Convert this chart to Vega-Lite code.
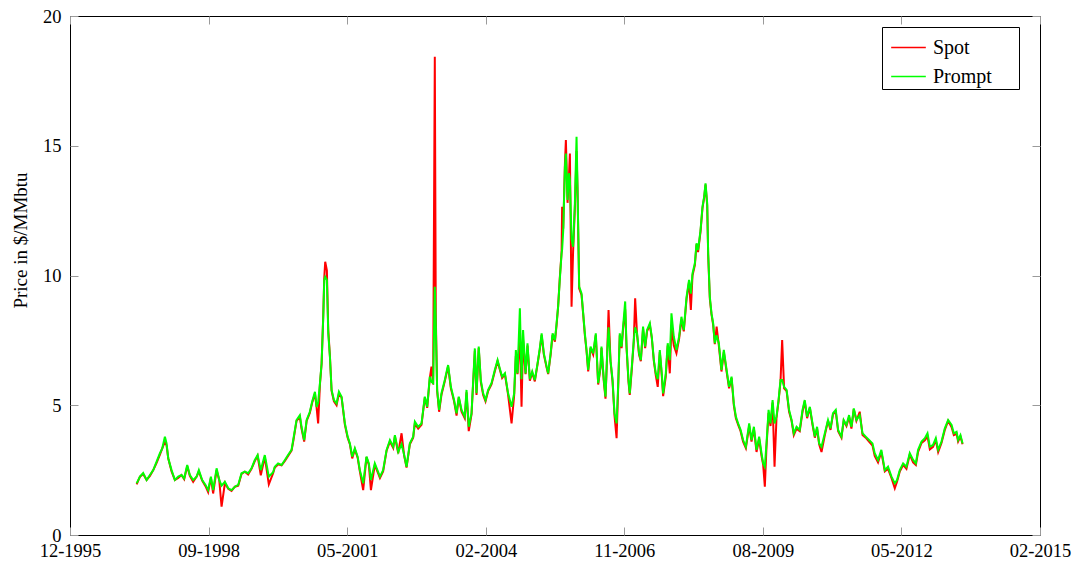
{
  "$schema": "https://vega.github.io/schema/vega-lite/v6.json",
  "width": 970,
  "height": 519,
  "autosize": "none",
  "padding": {"left": 70, "top": 16, "right": 36, "bottom": 27},
  "background": "white",
  "config": {
    "view": {"stroke": "black", "strokeWidth": 1},
    "font": "Liberation Serif",
    "axis": {"labelFont": "Liberation Serif", "titleFont": "Liberation Serif", "labelFontSize": 18.5, "titleFontSize": 19, "titleFontWeight": "normal", "labelColor": "black", "titleColor": "black", "domain": false, "grid": false, "tickColor": "#9a9a9a", "tickSize": -8, "tickWidth": 1}
  },
  "data": {"values": [
{"date":"1997-04-02","Spot":1.95,"Prompt":1.99},{"date":"1997-04-26","Spot":2.25,"Prompt":2.25},{"date":"1997-05-19","Spot":2.35,"Prompt":2.39},{"date":"1997-06-13","Spot":2.12,"Prompt":2.12},{"date":"1997-07-07","Spot":2.28,"Prompt":2.31},{"date":"1997-07-31","Spot":2.5,"Prompt":2.5},{"date":"1997-08-24","Spot":2.78,"Prompt":2.83},{"date":"1997-09-17","Spot":3.1,"Prompt":3.15},{"date":"1997-10-04","Spot":3.34,"Prompt":3.34},{"date":"1997-10-23","Spot":3.6,"Prompt":3.79},{"date":"1997-11-04","Spot":3.45,"Prompt":3.53},{"date":"1997-11-16","Spot":2.96,"Prompt":2.96},{"date":"1997-12-10","Spot":2.45,"Prompt":2.5},
{"date":"1998-01-03","Spot":2.12,"Prompt":2.12},{"date":"1998-01-27","Spot":2.2,"Prompt":2.25},{"date":"1998-02-20","Spot":2.31,"Prompt":2.31},{"date":"1998-03-11","Spot":2.15,"Prompt":2.18},{"date":"1998-04-02","Spot":2.65,"Prompt":2.7},{"date":"1998-04-21","Spot":2.28,"Prompt":2.31},{"date":"1998-05-15","Spot":2.05,"Prompt":2.12},{"date":"1998-06-09","Spot":2.25,"Prompt":2.25},{"date":"1998-06-25","Spot":2.45,"Prompt":2.5},{"date":"1998-07-19","Spot":2.1,"Prompt":2.12},{"date":"1998-08-12","Spot":1.88,"Prompt":1.93},{"date":"1998-08-31","Spot":1.65,"Prompt":1.73},{"date":"1998-09-20","Spot":2.2,"Prompt":2.25},{"date":"1998-10-06","Spot":1.6,"Prompt":1.73},{"date":"1998-10-31","Spot":2.5,"Prompt":2.57},{"date":"1998-11-19","Spot":2.12,"Prompt":2.12},{"date":"1998-12-06","Spot":1.09,"Prompt":1.9},{"date":"1998-12-30","Spot":2.0,"Prompt":2.05},
{"date":"1999-01-23","Spot":1.78,"Prompt":1.8},{"date":"1999-02-16","Spot":1.7,"Prompt":1.73},{"date":"1999-03-12","Spot":1.86,"Prompt":1.86},{"date":"1999-04-05","Spot":1.9,"Prompt":1.93},{"date":"1999-04-29","Spot":2.35,"Prompt":2.38},{"date":"1999-05-23","Spot":2.44,"Prompt":2.44},{"date":"1999-06-16","Spot":2.33,"Prompt":2.38},{"date":"1999-07-10","Spot":2.55,"Prompt":2.57},{"date":"1999-08-03","Spot":2.85,"Prompt":2.89},{"date":"1999-08-23","Spot":3.05,"Prompt":3.08},{"date":"1999-09-15","Spot":2.3,"Prompt":2.5},{"date":"1999-10-14","Spot":3.0,"Prompt":3.08},{"date":"1999-11-12","Spot":1.95,"Prompt":2.25},{"date":"1999-12-13","Spot":2.38,"Prompt":2.42},{"date":"1999-12-25","Spot":2.6,"Prompt":2.63},
{"date":"2000-01-18","Spot":2.72,"Prompt":2.76},{"date":"2000-02-12","Spot":2.68,"Prompt":2.7},{"date":"2000-03-07","Spot":2.85,"Prompt":2.89},{"date":"2000-03-30","Spot":3.05,"Prompt":3.08},{"date":"2000-04-24","Spot":3.25,"Prompt":3.28},{"date":"2000-05-06","Spot":3.6,"Prompt":3.66},{"date":"2000-05-30","Spot":4.4,"Prompt":4.43},{"date":"2000-06-23","Spot":4.55,"Prompt":4.62},{"date":"2000-07-05","Spot":4.1,"Prompt":4.17},{"date":"2000-07-24","Spot":3.6,"Prompt":3.66},{"date":"2000-08-11","Spot":4.4,"Prompt":4.43},{"date":"2000-09-03","Spot":4.7,"Prompt":4.75},{"date":"2000-09-20","Spot":5.1,"Prompt":5.14},{"date":"2000-10-10","Spot":5.45,"Prompt":5.52},{"date":"2000-10-22","Spot":4.9,"Prompt":4.94},{"date":"2000-11-02","Spot":4.3,"Prompt":5.1},{"date":"2000-11-15","Spot":5.8,"Prompt":5.85},{"date":"2000-11-27","Spot":6.6,"Prompt":6.62},{"date":"2000-12-09","Spot":8.5,"Prompt":8.41},{"date":"2000-12-16","Spot":9.9,"Prompt":9.83},{"date":"2000-12-23","Spot":10.53,"Prompt":9.95},
{"date":"2001-01-04","Spot":10.2,"Prompt":9.83},{"date":"2001-01-14","Spot":7.9,"Prompt":7.77},{"date":"2001-01-26","Spot":6.9,"Prompt":6.87},{"date":"2001-02-07","Spot":5.55,"Prompt":5.59},{"date":"2001-02-24","Spot":5.15,"Prompt":5.2},{"date":"2001-03-15","Spot":5.0,"Prompt":5.07},{"date":"2001-04-01","Spot":5.45,"Prompt":5.52},{"date":"2001-04-20","Spot":5.3,"Prompt":5.33},{"date":"2001-05-14","Spot":4.25,"Prompt":4.3},{"date":"2001-06-03","Spot":3.75,"Prompt":3.79},{"date":"2001-06-19","Spot":3.5,"Prompt":3.53},{"date":"2001-07-06","Spot":2.95,"Prompt":3.02},{"date":"2001-07-25","Spot":3.3,"Prompt":3.34},{"date":"2001-08-14","Spot":2.98,"Prompt":3.02},{"date":"2001-08-30","Spot":2.45,"Prompt":2.5},{"date":"2001-09-23","Spot":1.73,"Prompt":1.99},{"date":"2001-10-17","Spot":3.0,"Prompt":3.02},{"date":"2001-11-03","Spot":2.7,"Prompt":2.76},{"date":"2001-11-18","Spot":1.73,"Prompt":2.12},{"date":"2001-12-16","Spot":2.7,"Prompt":2.76},
{"date":"2002-01-22","Spot":2.2,"Prompt":2.25},{"date":"2002-02-14","Spot":2.45,"Prompt":2.5},{"date":"2002-03-11","Spot":3.25,"Prompt":3.28},{"date":"2002-04-04","Spot":3.6,"Prompt":3.66},{"date":"2002-04-28","Spot":3.35,"Prompt":3.4},{"date":"2002-05-10","Spot":3.8,"Prompt":3.85},{"date":"2002-06-03","Spot":3.15,"Prompt":3.2},{"date":"2002-06-27","Spot":3.92,"Prompt":3.5},{"date":"2002-07-16","Spot":3.05,"Prompt":3.08},{"date":"2002-08-02","Spot":2.6,"Prompt":2.63},{"date":"2002-08-26","Spot":3.5,"Prompt":3.53},{"date":"2002-09-19","Spot":3.75,"Prompt":3.79},{"date":"2002-10-01","Spot":4.3,"Prompt":4.37},{"date":"2002-10-25","Spot":4.1,"Prompt":4.17},{"date":"2002-11-18","Spot":4.25,"Prompt":4.3},{"date":"2002-12-12","Spot":5.3,"Prompt":5.33},{"date":"2002-12-29","Spot":4.9,"Prompt":4.94},
{"date":"2003-01-17","Spot":6.05,"Prompt":6.1},{"date":"2003-01-29","Spot":6.49,"Prompt":5.9},{"date":"2003-02-10","Spot":5.8,"Prompt":5.85},{"date":"2003-02-22","Spot":18.43,"Prompt":9.57},{"date":"2003-03-01","Spot":8.5,"Prompt":8.16},{"date":"2003-03-11","Spot":5.55,"Prompt":5.59},{"date":"2003-03-25","Spot":4.75,"Prompt":4.82},{"date":"2003-04-11","Spot":5.4,"Prompt":5.46},{"date":"2003-05-05","Spot":5.92,"Prompt":5.97},{"date":"2003-05-29","Spot":6.5,"Prompt":6.55},{"date":"2003-06-18","Spot":5.65,"Prompt":5.71},{"date":"2003-07-11","Spot":5.15,"Prompt":5.2},{"date":"2003-07-29","Spot":4.6,"Prompt":4.69},{"date":"2003-08-14","Spot":5.3,"Prompt":5.33},{"date":"2003-09-03","Spot":4.75,"Prompt":4.82},{"date":"2003-09-26","Spot":4.5,"Prompt":4.56},{"date":"2003-10-09","Spot":5.5,"Prompt":5.59},{"date":"2003-10-25","Spot":4.0,"Prompt":4.17},{"date":"2003-11-14","Spot":4.65,"Prompt":4.69},{"date":"2003-12-08","Spot":7.1,"Prompt":7.19},{"date":"2003-12-20","Spot":5.4,"Prompt":5.46},
{"date":"2004-01-05","Spot":7.2,"Prompt":7.26},{"date":"2004-01-20","Spot":5.9,"Prompt":5.97},{"date":"2004-02-06","Spot":5.4,"Prompt":5.46},{"date":"2004-02-23","Spot":5.15,"Prompt":5.2},{"date":"2004-03-13","Spot":5.55,"Prompt":5.59},{"date":"2004-04-06","Spot":5.8,"Prompt":5.85},{"date":"2004-04-30","Spot":6.3,"Prompt":6.36},{"date":"2004-05-20","Spot":6.7,"Prompt":6.74},{"date":"2004-06-05","Spot":6.38,"Prompt":6.42},{"date":"2004-06-22","Spot":6.05,"Prompt":6.1},{"date":"2004-07-12","Spot":6.2,"Prompt":6.23},{"date":"2004-08-04","Spot":5.4,"Prompt":5.46},{"date":"2004-08-29","Spot":4.3,"Prompt":4.94},{"date":"2004-09-17","Spot":5.4,"Prompt":5.46},{"date":"2004-09-29","Spot":6.9,"Prompt":7.13},{"date":"2004-10-11","Spot":6.2,"Prompt":6.23},{"date":"2004-10-28","Spot":7.8,"Prompt":8.74},{"date":"2004-11-09","Spot":4.94,"Prompt":6.0},{"date":"2004-11-20","Spot":7.5,"Prompt":7.9},{"date":"2004-12-08","Spot":6.2,"Prompt":6.23},{"date":"2004-12-22","Spot":7.3,"Prompt":7.39},
{"date":"2005-01-08","Spot":5.95,"Prompt":6.0},{"date":"2005-01-25","Spot":6.25,"Prompt":6.3},{"date":"2005-02-13","Spot":5.92,"Prompt":5.97},{"date":"2005-03-05","Spot":6.6,"Prompt":6.62},{"date":"2005-03-21","Spot":7.15,"Prompt":7.2},{"date":"2005-04-03","Spot":7.7,"Prompt":7.77},{"date":"2005-04-19","Spot":6.95,"Prompt":7.0},{"date":"2005-05-09","Spot":6.45,"Prompt":6.49},{"date":"2005-05-20","Spot":6.2,"Prompt":6.23},{"date":"2005-06-07","Spot":6.95,"Prompt":7.0},{"date":"2005-06-21","Spot":7.7,"Prompt":7.77},{"date":"2005-07-08","Spot":7.45,"Prompt":7.51},{"date":"2005-07-20","Spot":8.1,"Prompt":8.16},{"date":"2005-07-31","Spot":8.8,"Prompt":8.8},{"date":"2005-08-12","Spot":9.9,"Prompt":9.83},{"date":"2005-08-25","Spot":10.9,"Prompt":10.86},{"date":"2005-08-29","Spot":12.65,"Prompt":11.0},{"date":"2005-09-06","Spot":11.8,"Prompt":11.75},{"date":"2005-09-18","Spot":14.3,"Prompt":14.19},{"date":"2005-09-25","Spot":15.22,"Prompt":14.7},{"date":"2005-10-07","Spot":12.8,"Prompt":12.91},{"date":"2005-10-17","Spot":13.8,"Prompt":13.94},{"date":"2005-10-24","Spot":14.7,"Prompt":13.7},{"date":"2005-11-05","Spot":8.8,"Prompt":11.4},{"date":"2005-11-16","Spot":10.9,"Prompt":11.11},{"date":"2005-11-29","Spot":12.6,"Prompt":12.78},{"date":"2005-12-11","Spot":14.8,"Prompt":15.35},{"date":"2005-12-18","Spot":13.3,"Prompt":13.42},{"date":"2005-12-30","Spot":9.5,"Prompt":9.57},
{"date":"2006-01-16","Spot":9.25,"Prompt":9.31},{"date":"2006-01-28","Spot":8.5,"Prompt":8.54},{"date":"2006-02-09","Spot":7.7,"Prompt":7.77},{"date":"2006-02-21","Spot":7.1,"Prompt":7.13},{"date":"2006-03-05","Spot":6.3,"Prompt":6.36},{"date":"2006-03-22","Spot":7.2,"Prompt":7.26},{"date":"2006-04-10","Spot":6.95,"Prompt":7.0},{"date":"2006-04-29","Spot":7.7,"Prompt":7.77},{"date":"2006-05-16","Spot":5.8,"Prompt":5.85},{"date":"2006-06-02","Spot":6.45,"Prompt":6.49},{"date":"2006-06-09","Spot":7.2,"Prompt":7.26},{"date":"2006-06-26","Spot":5.9,"Prompt":5.97},{"date":"2006-07-08","Spot":5.25,"Prompt":5.33},{"date":"2006-07-20","Spot":6.95,"Prompt":7.0},{"date":"2006-07-30","Spot":8.67,"Prompt":8.0},{"date":"2006-08-13","Spot":6.7,"Prompt":6.74},{"date":"2006-08-28","Spot":5.9,"Prompt":5.97},{"date":"2006-09-11","Spot":4.6,"Prompt":4.69},{"date":"2006-09-26","Spot":3.73,"Prompt":4.3},{"date":"2006-10-07","Spot":5.6,"Prompt":5.71},{"date":"2006-10-19","Spot":7.7,"Prompt":7.77},{"date":"2006-11-01","Spot":7.2,"Prompt":7.26},{"date":"2006-11-12","Spot":7.95,"Prompt":8.03},{"date":"2006-11-27","Spot":8.7,"Prompt":9.0},{"date":"2006-12-07","Spot":7.2,"Prompt":7.26},{"date":"2006-12-21","Spot":5.9,"Prompt":5.97},{"date":"2006-12-30","Spot":5.4,"Prompt":5.46},
{"date":"2007-01-14","Spot":6.4,"Prompt":6.49},{"date":"2007-01-28","Spot":7.45,"Prompt":7.51},{"date":"2007-02-07","Spot":9.12,"Prompt":8.0},{"date":"2007-02-21","Spot":7.7,"Prompt":7.77},{"date":"2007-03-07","Spot":6.95,"Prompt":7.0},{"date":"2007-03-20","Spot":6.7,"Prompt":6.74},{"date":"2007-04-05","Spot":7.95,"Prompt":8.03},{"date":"2007-04-20","Spot":7.2,"Prompt":7.26},{"date":"2007-05-04","Spot":7.85,"Prompt":7.9},{"date":"2007-05-24","Spot":8.1,"Prompt":8.16},{"date":"2007-06-07","Spot":7.6,"Prompt":7.64},{"date":"2007-06-22","Spot":6.7,"Prompt":6.74},{"date":"2007-07-06","Spot":6.15,"Prompt":6.23},{"date":"2007-07-20","Spot":5.71,"Prompt":6.0},{"date":"2007-08-04","Spot":7.05,"Prompt":7.13},{"date":"2007-08-18","Spot":6.15,"Prompt":6.23},{"date":"2007-08-28","Spot":5.35,"Prompt":5.46},{"date":"2007-09-16","Spot":6.1,"Prompt":6.23},{"date":"2007-09-30","Spot":7.3,"Prompt":7.39},{"date":"2007-10-15","Spot":6.23,"Prompt":6.74},{"date":"2007-10-27","Spot":8.0,"Prompt":8.54},{"date":"2007-11-13","Spot":7.3,"Prompt":7.64},{"date":"2007-12-02","Spot":7.0,"Prompt":7.13},{"date":"2007-12-21","Spot":7.55,"Prompt":7.64},
{"date":"2008-01-07","Spot":8.3,"Prompt":8.41},{"date":"2008-01-24","Spot":7.85,"Prompt":7.9},{"date":"2008-02-13","Spot":9.1,"Prompt":9.18},{"date":"2008-03-02","Spot":9.75,"Prompt":9.83},{"date":"2008-03-15","Spot":8.67,"Prompt":9.3},{"date":"2008-03-27","Spot":10.0,"Prompt":10.08},{"date":"2008-04-13","Spot":10.4,"Prompt":10.47},{"date":"2008-04-25","Spot":11.2,"Prompt":11.24},{"date":"2008-05-06","Spot":10.9,"Prompt":10.98},{"date":"2008-05-24","Spot":11.7,"Prompt":11.75},{"date":"2008-06-07","Spot":12.6,"Prompt":12.65},{"date":"2008-06-19","Spot":13.0,"Prompt":13.04},{"date":"2008-06-29","Spot":13.5,"Prompt":13.55},{"date":"2008-07-11","Spot":12.7,"Prompt":12.78},{"date":"2008-07-18","Spot":10.8,"Prompt":10.86},{"date":"2008-07-30","Spot":9.1,"Prompt":9.18},{"date":"2008-08-11","Spot":8.5,"Prompt":8.54},{"date":"2008-08-23","Spot":8.1,"Prompt":8.16},{"date":"2008-09-04","Spot":7.35,"Prompt":7.39},{"date":"2008-09-17","Spot":8.03,"Prompt":7.7},{"date":"2008-10-03","Spot":7.3,"Prompt":7.39},{"date":"2008-10-22","Spot":6.3,"Prompt":6.36},{"date":"2008-11-08","Spot":7.05,"Prompt":7.13},{"date":"2008-11-28","Spot":6.3,"Prompt":6.36},{"date":"2008-12-16","Spot":5.65,"Prompt":5.71},
{"date":"2009-01-03","Spot":6.05,"Prompt":6.1},{"date":"2009-01-19","Spot":5.0,"Prompt":5.07},{"date":"2009-02-03","Spot":4.5,"Prompt":4.56},{"date":"2009-02-19","Spot":4.25,"Prompt":4.3},{"date":"2009-03-09","Spot":4.0,"Prompt":4.05},{"date":"2009-03-27","Spot":3.6,"Prompt":3.66},{"date":"2009-04-16","Spot":3.35,"Prompt":3.4},{"date":"2009-05-10","Spot":4.2,"Prompt":4.3},{"date":"2009-05-27","Spot":3.6,"Prompt":3.66},{"date":"2009-06-13","Spot":4.1,"Prompt":4.17},{"date":"2009-07-02","Spot":3.2,"Prompt":3.28},{"date":"2009-07-21","Spot":3.7,"Prompt":3.79},{"date":"2009-08-07","Spot":3.05,"Prompt":3.15},{"date":"2009-08-19","Spot":2.7,"Prompt":2.76},{"date":"2009-08-31","Spot":1.86,"Prompt":2.63},{"date":"2009-09-12","Spot":3.4,"Prompt":3.53},{"date":"2009-09-27","Spot":4.7,"Prompt":4.82},{"date":"2009-10-11","Spot":4.2,"Prompt":4.3},{"date":"2009-10-26","Spot":5.1,"Prompt":5.2},{"date":"2009-11-09","Spot":2.63,"Prompt":4.3},{"date":"2009-11-23","Spot":4.5,"Prompt":4.56},{"date":"2009-12-08","Spot":5.15,"Prompt":5.2},{"date":"2009-12-22","Spot":5.9,"Prompt":5.97},
{"date":"2010-01-03","Spot":7.51,"Prompt":5.97},{"date":"2010-01-17","Spot":5.65,"Prompt":5.71},{"date":"2010-02-04","Spot":5.55,"Prompt":5.59},{"date":"2010-02-22","Spot":4.75,"Prompt":4.82},{"date":"2010-03-12","Spot":4.4,"Prompt":4.43},{"date":"2010-03-28","Spot":3.85,"Prompt":3.92},{"date":"2010-04-17","Spot":4.1,"Prompt":4.17},{"date":"2010-05-10","Spot":4.0,"Prompt":4.05},{"date":"2010-05-30","Spot":4.75,"Prompt":4.82},{"date":"2010-06-15","Spot":5.15,"Prompt":5.2},{"date":"2010-07-02","Spot":4.5,"Prompt":4.56},{"date":"2010-07-22","Spot":4.9,"Prompt":4.94},{"date":"2010-08-10","Spot":4.25,"Prompt":4.3},{"date":"2010-08-27","Spot":3.75,"Prompt":3.79},{"date":"2010-09-12","Spot":4.1,"Prompt":4.17},{"date":"2010-09-27","Spot":3.5,"Prompt":3.53},{"date":"2010-10-14","Spot":3.2,"Prompt":3.4},{"date":"2010-11-07","Spot":3.85,"Prompt":3.92},{"date":"2010-11-30","Spot":4.4,"Prompt":4.43},{"date":"2010-12-18","Spot":4.05,"Prompt":4.11},
{"date":"2011-01-05","Spot":4.65,"Prompt":4.69},{"date":"2011-01-25","Spot":4.75,"Prompt":4.82},{"date":"2011-02-11","Spot":4.0,"Prompt":4.05},{"date":"2011-03-07","Spot":3.75,"Prompt":3.79},{"date":"2011-03-23","Spot":4.4,"Prompt":4.43},{"date":"2011-04-12","Spot":4.2,"Prompt":4.24},{"date":"2011-05-01","Spot":4.55,"Prompt":4.62},{"date":"2011-05-18","Spot":4.1,"Prompt":4.17},{"date":"2011-06-04","Spot":4.85,"Prompt":4.88},{"date":"2011-06-23","Spot":4.4,"Prompt":4.43},{"date":"2011-07-17","Spot":4.75,"Prompt":4.62},{"date":"2011-08-06","Spot":3.85,"Prompt":3.92},{"date":"2011-08-29","Spot":3.75,"Prompt":3.79},{"date":"2011-09-22","Spot":3.6,"Prompt":3.66},{"date":"2011-10-17","Spot":3.45,"Prompt":3.53},{"date":"2011-11-02","Spot":3.05,"Prompt":3.15},{"date":"2011-11-26","Spot":2.8,"Prompt":2.89},{"date":"2011-12-20","Spot":3.2,"Prompt":3.28},
{"date":"2012-01-14","Spot":2.45,"Prompt":2.5},{"date":"2012-02-06","Spot":2.55,"Prompt":2.63},{"date":"2012-03-02","Spot":2.2,"Prompt":2.25},{"date":"2012-03-26","Spot":1.8,"Prompt":1.99},{"date":"2012-04-11","Spot":2.05,"Prompt":2.12},{"date":"2012-05-01","Spot":2.45,"Prompt":2.5},{"date":"2012-05-25","Spot":2.7,"Prompt":2.76},{"date":"2012-06-18","Spot":2.55,"Prompt":2.63},{"date":"2012-07-12","Spot":3.1,"Prompt":3.15},{"date":"2012-08-05","Spot":2.8,"Prompt":2.89},{"date":"2012-08-25","Spot":2.7,"Prompt":2.76},{"date":"2012-09-10","Spot":3.2,"Prompt":3.28},{"date":"2012-10-05","Spot":3.55,"Prompt":3.6},{"date":"2012-10-29","Spot":3.65,"Prompt":3.73},{"date":"2012-11-17","Spot":3.8,"Prompt":3.92},{"date":"2012-12-04","Spot":3.3,"Prompt":3.4},{"date":"2012-12-27","Spot":3.4,"Prompt":3.47},
{"date":"2013-01-16","Spot":3.65,"Prompt":3.73},{"date":"2013-02-02","Spot":3.2,"Prompt":3.28},{"date":"2013-02-26","Spot":3.55,"Prompt":3.6},{"date":"2013-03-22","Spot":4.05,"Prompt":4.11},{"date":"2013-04-15","Spot":4.4,"Prompt":4.43},{"date":"2013-05-10","Spot":4.15,"Prompt":4.24},{"date":"2013-05-26","Spot":3.85,"Prompt":3.92},{"date":"2013-06-15","Spot":3.9,"Prompt":3.98},{"date":"2013-06-26","Spot":3.6,"Prompt":3.66},{"date":"2013-07-13","Spot":3.8,"Prompt":3.85},{"date":"2013-07-28","Spot":3.5,"Prompt":3.53}
  ]},
  "transform": [{"fold": ["Spot", "Prompt"], "as": ["series", "price"]}],
  "layer": [
    {
      "mark": {"type": "line", "strokeWidth": 2},
      "encoding": {
        "x": {"field": "date", "type": "temporal",
          "scale": {"type": "utc", "domain": [{"year": 1995, "month": 12, "date": 8, "utc": true}, {"year": 2015, "month": 2, "date": 7, "utc": true}]},
          "axis": {"orient": "bottom", "title": null, "format": "%m-%Y", "labelPadding": 14, "labelFlush": false,
            "values": [{"year": 1995, "month": 12, "date": 8, "utc": true}, {"year": 1998, "month": 9, "date": 3, "utc": true}, {"year": 2001, "month": 5, "date": 31, "utc": true}, {"year": 2004, "month": 2, "date": 25, "utc": true}, {"year": 2006, "month": 11, "date": 21, "utc": true}, {"year": 2009, "month": 8, "date": 17, "utc": true}, {"year": 2012, "month": 5, "date": 13, "utc": true}, {"year": 2015, "month": 2, "date": 7, "utc": true}]}},
        "y": {"field": "price", "type": "quantitative",
          "scale": {"domain": [0, 20], "nice": false},
          "axis": {"orient": "left", "title": "Price in $/MMbtu", "values": [0, 5, 10, 15, 20], "labelPadding": 17, "titlePadding": 12, "titleY": 224, "labelFlush": false}},
        "color": {"field": "series", "type": "nominal",
          "scale": {"domain": ["Spot", "Prompt"], "range": ["#ff0000", "#00ff00"]},
          "legend": {"title": null, "orient": "none", "legendX": 812, "legendY": 11, "strokeColor": "black", "fillColor": "white", "padding": 2, "symbolOffset": 6, "symbolType": "stroke", "symbolSize": 1200, "symbolStrokeWidth": 1.5, "labelFont": "Liberation Serif", "labelFontSize": 20, "labelColor": "black", "rowPadding": 0, "labelOffset": 6, "cornerRadius": 0, "labelExpr": "datum.label + '\u00a0\u00a0\u00a0\u00a0\u00a0\u200b'"}}
      }
    },
    {
      "mark": {"type": "point", "opacity": 0},
      "encoding": {
        "x": {"field": "date", "type": "temporal",
          "axis": {"orient": "top", "title": null, "labels": false,
            "values": [{"year": 1995, "month": 12, "date": 8, "utc": true}, {"year": 1998, "month": 9, "date": 3, "utc": true}, {"year": 2001, "month": 5, "date": 31, "utc": true}, {"year": 2004, "month": 2, "date": 25, "utc": true}, {"year": 2006, "month": 11, "date": 21, "utc": true}, {"year": 2009, "month": 8, "date": 17, "utc": true}, {"year": 2012, "month": 5, "date": 13, "utc": true}, {"year": 2015, "month": 2, "date": 7, "utc": true}]}},
        "y": {"field": "price", "type": "quantitative",
          "axis": {"orient": "right", "title": null, "labels": false, "values": [0, 5, 10, 15, 20]}}
      }
    }
  ],
  "resolve": {"axis": {"x": "independent", "y": "independent"}}
}
